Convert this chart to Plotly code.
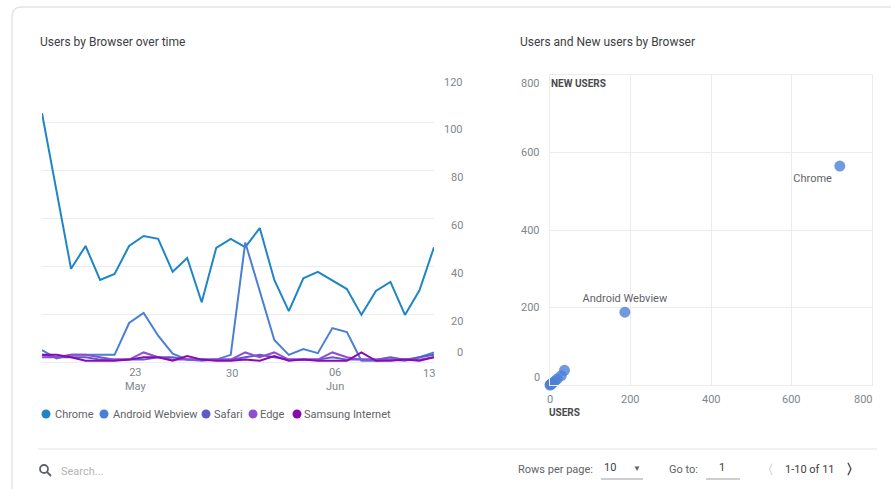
import plotly.graph_objects as go
import pandas as pd

W, H = 891, 489
def px(x): return x / W
def py(y): return 1 - y / H

# ---------------- data ----------------
dates = pd.date_range("2023-05-17", "2023-06-13").strftime("%Y-%m-%d").tolist()

chrome = [104, 72, 39, 48.5, 34.3, 36.8, 48.5, 52.7, 51.5, 37.7, 43.5, 25, 47.7, 51.5,
          48, 56, 34.3, 21.3, 35, 37.7, 34, 30.5, 19.7, 29.7, 33.5, 19.7, 30, 48]
android_webview = [5, 1.5, 3, 3, 3, 3, 16.3, 20.5, 11, 3.5, 1, 0.5, 1, 3,
                   50, 30, 9.2, 3, 5.4, 3.7, 14.2, 12.5, 0.5, 0.5, 1, 0.5, 2, 4]
safari = [3, 2, 2, 2, 1, 1, 1, 1, 2, 2, 1, 1, 1, 1, 2, 3, 2, 1, 1, 1, 2, 1, 1, 1, 2, 1, 2, 3]
edge = [2, 2, 3, 3, 2, 1, 1, 4, 2, 1, 1, 1, 1, 1, 4, 2, 4, 1, 1, 1, 4, 2, 1, 1, 1, 1, 1, 2]
samsung_internet = [3, 3, 2, 0.5, 0.5, 0.5, 1, 2, 2, 0.5, 2.5, 1, 0.5, 0.5, 1, 0.5, 2.5,
                    0.5, 1, 0.5, 0.5, 0.5, 4, 0.5, 0.5, 1, 0.5, 2]

series_names = ["Chrome", "Android Webview", "Safari", "Edge", "Samsung Internet"]
series_values = [chrome, android_webview, safari, edge, samsung_internet]
series_colors = ["#1e86c6", "#4a7fd6", "#5d5cc6", "#8f4dd2", "#860cae"]

time_tick_vals = ["2023-05-23", "2023-05-30", "2023-06-06", "2023-06-13"]
time_tick_text = ["23<br>May", "30", "06<br>Jun", "13"]
time_y_ticks = [0, 20, 40, 60, 80, 100, 120]

scatter_browsers = ["Chrome", "Android Webview", "Safari", "Edge", "Samsung Internet",
                    "Firefox", "Opera", "Safari (in-app)", "Brave", "Yandex"]
scatter_users = [720, 186, 36, 28, 18, 12, 6, 3, 1, 0]
scatter_new_users = [565, 188, 38, 24, 16, 10, 5, 2, 1, 0]
scatter_labels = ["Chrome", "Android Webview", "", "", "", "", "", "", "", ""]
scatter_ticks = [0, 200, 400, 600, 800]

FONT = "Roboto, Arial, sans-serif"
TICK_COLOR = "#80868b"
TEXT_COLOR = "#3c4043"
GRID = "#ececec"

fig = go.Figure()

for name, vals, col in zip(series_names, series_values, series_colors):
    fig.add_trace(go.Scatter(x=dates, y=vals, mode="lines", name=name,
                             line=dict(color=col, width=2), showlegend=False,
                             xaxis="x", yaxis="y"))

fig.add_trace(go.Scatter(
    x=scatter_users, y=scatter_new_users, mode="markers+text",
    text=scatter_labels,
    textposition=["bottom left", "top center"] + ["top center"] * 8,
    textfont=dict(family=FONT, size=11, color="#5f6368"),
    marker=dict(size=11, color="#4d80d6", opacity=0.8),
    cliponaxis=False, showlegend=False, xaxis="x2", yaxis="y2",
    hovertext=scatter_browsers))

tick_font = dict(family=FONT, size=11, color=TICK_COLOR)
annotations = []
# left chart: y tick labels (right-aligned, below their gridlines)
for v in time_y_ticks:
    annotations.append(dict(x=px(465), xref="paper", y=v, yref="y", text=str(v),
                            xanchor="right", yanchor="middle", showarrow=False,
                            yshift=(10 if v == 0 else -7), font=tick_font))
# left chart: x tick labels
time_tick_shift = [7, 1, 3, -5]
for v, t, s in zip(time_tick_vals, time_tick_text, time_tick_shift):
    two = "<br>" in t
    annotations.append(dict(x=v, xref="x", y=py(379.5 if two else 373), yref="paper",
                            text=t, xanchor="center", yanchor="middle", showarrow=False,
                            xshift=s, font=tick_font))
# scatter: y tick labels
for v in scatter_ticks:
    shift = {0: 8, 800: -8}.get(v, 0)
    annotations.append(dict(x=px(542), xref="paper", y=v, yref="y2", text=str(v),
                            xanchor="right", yanchor="middle", showarrow=False,
                            yshift=shift, font=tick_font))
# scatter: x tick labels
for v in scatter_ticks:
    annotations.append(dict(x=v, xref="x2", y=py(399), yref="paper", text=str(v),
                            xanchor="center", yanchor="middle", showarrow=False,
                            xshift=(-9 if v == 800 else 0), font=tick_font))

annotations.append(dict(x=px(38), y=py(42), xref="paper", yref="paper",
                        text="Users by Browser over time", xanchor="left", yanchor="middle",
                        showarrow=False, font=dict(family=FONT, size=12, color=TEXT_COLOR)))
annotations.append(dict(x=px(518), y=py(42), xref="paper", yref="paper",
                        text="Users and New users by Browser", xanchor="left", yanchor="middle",
                        showarrow=False, font=dict(family=FONT, size=12, color=TEXT_COLOR)))
annotations.append(dict(x=px(549), y=py(83), xref="paper", yref="paper",
                        text="<b>NEW USERS</b>", xanchor="left", yanchor="middle",
                        showarrow=False, font=dict(family=FONT, size=10, color="#4a4a4a")))
annotations.append(dict(x=px(547), y=py(412), xref="paper", yref="paper",
                        text="<b>USERS</b>", xanchor="left", yanchor="middle",
                        showarrow=False, font=dict(family=FONT, size=10, color="#4a4a4a")))

shapes = []
legend_dot_x = [46, 104, 206, 253, 297]
legend_text_x = [53, 111, 212, 258, 302]
for name, col, dx, tx in zip(series_names, series_colors, legend_dot_x, legend_text_x):
    shapes.append(dict(type="circle", xref="paper", yref="paper",
                       x0=px(dx - 4.5), x1=px(dx + 4.5), y0=py(418.5), y1=py(409.5),
                       fillcolor=col, line=dict(width=0)))
    annotations.append(dict(x=px(tx), y=py(414), xref="paper", yref="paper", text=name,
                            xanchor="left", yanchor="middle", showarrow=False,
                            font=dict(family=FONT, size=11, color="#5f6368")))

shapes.append(dict(type="path", xref="paper", yref="paper",
                   path=f"M {px(12)},{py(489)} L {px(12)},{py(17)} Q {px(12)},{py(7)} {px(22)},{py(7)} L {px(891)},{py(7)}",
                   line=dict(color="#e4e4e4", width=1.5)))
shapes.append(dict(type="line", xref="paper", yref="paper", x0=px(38), x1=px(877),
                   y0=py(449), y1=py(449), line=dict(color="#e3e3e3", width=1)))
shapes.append(dict(type="circle", xref="paper", yref="paper", x0=px(40), x1=px(48),
                   y0=py(473), y1=py(465), line=dict(color="#5f6368", width=1.8)))
shapes.append(dict(type="line", xref="paper", yref="paper", x0=px(47), x1=px(51),
                   y0=py(472), y1=py(476), line=dict(color="#5f6368", width=2)))
shapes.append(dict(type="line", xref="paper", yref="paper", x0=px(601), x1=px(643),
                   y0=py(479), y1=py(479), line=dict(color="#9e9e9e", width=1)))
shapes.append(dict(type="line", xref="paper", yref="paper", x0=px(706), x1=px(740),
                   y0=py(479), y1=py(479), line=dict(color="#9e9e9e", width=1)))

def foot(x, y, text, color="#5f6368", size=11, anchor="left"):
    annotations.append(dict(x=px(x), y=py(y), xref="paper", yref="paper", text=text,
                            xanchor=anchor, yanchor="middle", showarrow=False,
                            font=dict(family=FONT, size=size, color=color)))

foot(59, 471, "Search...", color="#b4b4b4")
foot(516, 469, "Rows per page:")
foot(602, 467, "10", color="#3c4043")
foot(637, 468, "▼", size=8, anchor="center")
foot(667, 469, "Go to:")
foot(722, 467, "1", color="#3c4043", anchor="center")
foot(767, 469, "〈", color="#9aa0a6", size=13, anchor="center")
foot(783, 469, "1-10 of 11", color="#3c4043")
foot(853, 469, "<b>〉</b>", color="#202124", size=14, anchor="center")

fig.update_layout(
    width=W, height=H, margin=dict(l=0, r=0, t=0, b=0),
    paper_bgcolor="white", plot_bgcolor="white",
    font=dict(family=FONT, size=11, color=TICK_COLOR),
    showlegend=False,
    xaxis=dict(domain=[px(42), px(434)], type="date", range=[dates[0], dates[-1]],
               showticklabels=False, showgrid=False,
               zeroline=False, showline=False, ticks=""),
    yaxis=dict(domain=[py(365.6), py(75)], range=[-1.5, 120], tickvals=time_y_ticks,
               showticklabels=False, gridcolor=GRID, zeroline=False, showline=False),
    xaxis2=dict(domain=[px(550), px(872)], range=[0, 800], tickvals=scatter_ticks,
                showticklabels=False, gridcolor=GRID, zeroline=False, showline=True,
                mirror=True, linecolor=GRID, ticks="", anchor="y2"),
    yaxis2=dict(domain=[py(385), py(75)], range=[0, 800], tickvals=scatter_ticks,
                showticklabels=False, gridcolor=GRID, zeroline=False, showline=True,
                mirror=True, linecolor=GRID, anchor="x2"),
    annotations=annotations, shapes=shapes,
)

fig.write_html("out.html")
